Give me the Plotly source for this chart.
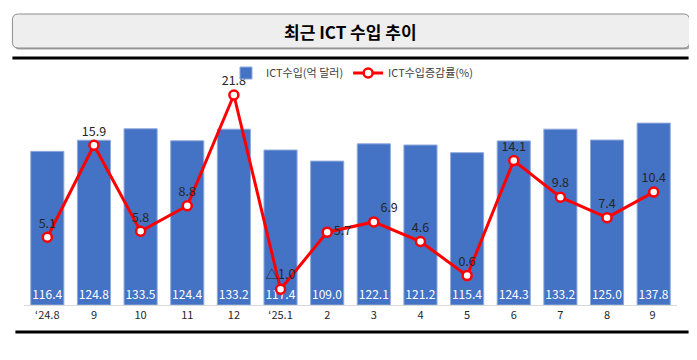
import plotly.graph_objects as go

categories = ["\u201824.8", "9", "10", "11", "12", "\u201825.1", "2", "3", "4", "5", "6", "7", "8", "9 "]
imports = [116.4, 124.8, 133.5, 124.4, 133.2, 117.4, 109.0, 122.1, 121.2, 115.4, 124.3, 133.2, 125.0, 137.8]
growth = [5.1, 15.9, 5.8, 8.8, 21.8, -1.0, 5.7, 6.9, 4.6, 0.6, 14.1, 9.8, 7.4, 10.4]
growth_pos = ["top center"] * 6 + ["middle right", "top right"] + ["top center"] * 6

OFF = 8  # page body margin
W, H = 697 - OFF, 360 - OFF
# plot area in page pixels: x 23.6..677.4, y 65..305
L, R = 23.6 - OFF, 697 - 677.4
T, B = 65 - OFF, 360 - 305
PW, PH = W - L - R, H - T - B
FONT = "Noto Sans CJK KR, Noto Sans, sans-serif"

def px(x):  # page pixel -> paper
    return (x - OFF - L) / PW

def py(y):
    return (305 - y) / PH

def fmt_growth(v):
    return ("\u25b3%.1f" % abs(v)) if v < 0 else "%.1f" % v

fig = go.Figure()
fig.add_trace(go.Bar(
    x=categories, y=imports, name="ICT수입(억 달러)",
    marker=dict(color="#4472C4", line=dict(color="#8FAADC", width=1)),
    text=["%.1f" % v for v in imports], textposition="inside",
    insidetextanchor="start", textangle=0, constraintext="none",
    textfont=dict(color="white", size=12, family=FONT),
    cliponaxis=False,
))
fig.add_trace(go.Scatter(
    x=categories, y=growth, name="ICT수입증감률(%)", yaxis="y2",
    mode="lines+markers+text",
    line=dict(color="#FF0000", width=3),
    marker=dict(symbol="circle", size=9, color="white", line=dict(color="#FF0000", width=2.5)),
    text=[fmt_growth(v) for v in growth], textposition=growth_pos,
    textfont=dict(color="#262626", size=12.5, family=FONT),
    cliponaxis=False,
))

def rr(x0, x1, y0, y1, r):
    return (f"M {px(x0+r)},{py(y0)} L {px(x1-r)},{py(y0)} Q {px(x1)},{py(y0)} {px(x1)},{py(y0+r)} "
            f"L {px(x1)},{py(y1-r)} Q {px(x1)},{py(y1)} {px(x1-r)},{py(y1)} "
            f"L {px(x0+r)},{py(y1)} Q {px(x0)},{py(y1)} {px(x0)},{py(y1-r)} "
            f"L {px(x0)},{py(y0+r)} Q {px(x0)},{py(y0)} {px(x0+r)},{py(y0)} Z")

x0, x1, y0, y1, r = 12, 690, 14, 48, 6
shapes = [
    dict(type="path", xref="paper", yref="paper", path=rr(x0 + 1.5, x1 + 1.5, y0 + 1.5, y1 + 1.5, r),
         fillcolor="#A0A0A0", line=dict(width=0), layer="above"),
    dict(type="path", xref="paper", yref="paper", path=rr(x0, x1, y0, y1, r),
         fillcolor="#EEEEEE", line=dict(color="#8C8C8C", width=1), layer="above"),
    dict(type="line", xref="paper", yref="paper", x0=px(12), x1=px(689), y0=py(58), y1=py(58),
         line=dict(color="black", width=3)),
    dict(type="line", xref="paper", yref="paper", x0=px(15), x1=px(689), y0=py(332), y1=py(332),
         line=dict(color="black", width=3)),
]

fig.update_layout(
    width=W, height=H,
    margin=dict(l=L, r=R, t=T, b=B),
    paper_bgcolor="white", plot_bgcolor="white",
    bargap=0.29,
    showlegend=True,
    legend=dict(orientation="h", x=px(352), xanchor="center", y=py(73), yanchor="middle",
                font=dict(size=11, color="#404040", family=FONT), bgcolor="rgba(0,0,0,0)",
                itemwidth=30, tracegroupgap=0),
    xaxis=dict(type="category", range=[-0.5, 13.5], showgrid=False, showline=True,
               linecolor="#D9D9D9", linewidth=1, ticks="",
               tickfont=dict(size=11, color="#262626", family=FONT)),
    yaxis=dict(range=[0, PH / 1.32], visible=False, showgrid=False),
    yaxis2=dict(range=[-2.85, 25.32], overlaying="y", side="right", visible=False, showgrid=False),
    shapes=shapes,
    annotations=[dict(xref="paper", yref="paper", x=px(351), y=py(31), text="<b>최근 ICT 수입 추이</b>",
                      showarrow=False, font=dict(size=17, color="black", family=FONT),
                      xanchor="center", yanchor="middle")],
)

fig.write_html("out.html")
